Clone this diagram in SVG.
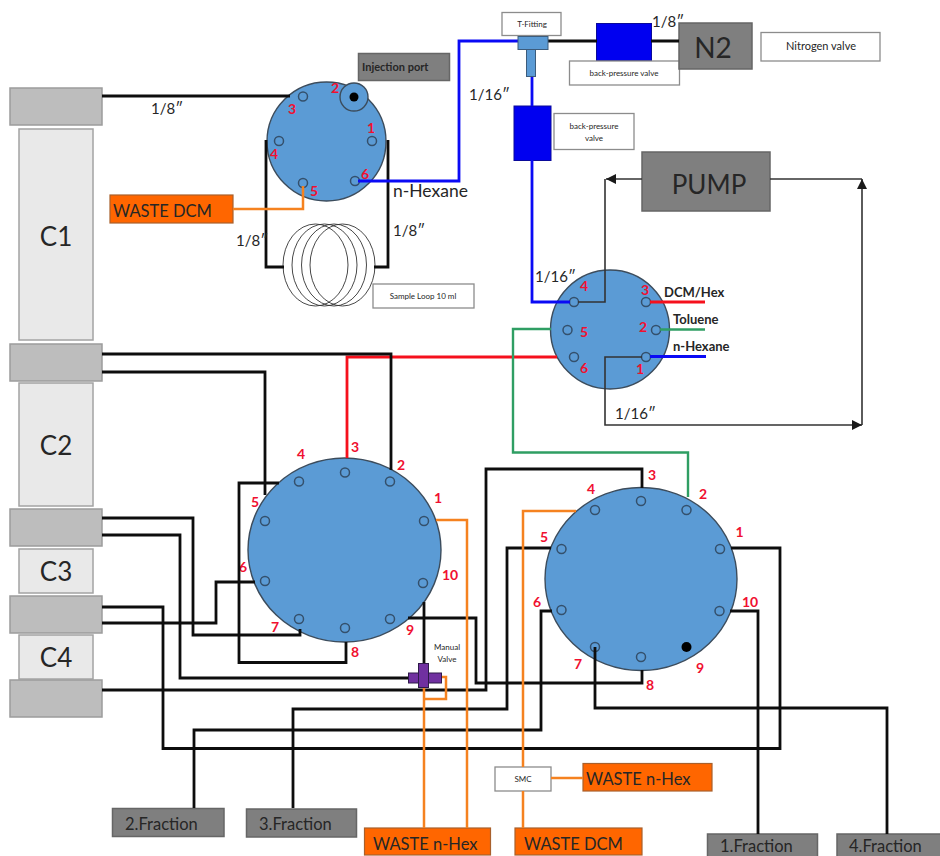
<svg xmlns="http://www.w3.org/2000/svg" width="940" height="856" viewBox="0 0 940 856">
<defs>
<style>
text{font-family:Lato,"Open Sans","Liberation Sans",sans-serif;fill:#262626}
.m{text-anchor:middle}
.g{fill:#bdbdbd;stroke:#9c9c9c;stroke-width:1.5}
.c{fill:#e9e9e9;stroke:#a3a3a3;stroke-width:1.5}
.d{fill:#7f7f7f;stroke:#666;stroke-width:1.5}
.o{fill:#ff6600;stroke:#a8602c;stroke-width:1.2}
.w{fill:#fff;stroke:#8c8c8c;stroke-width:1.3}
.b{fill:#0000f0;stroke:#0a0a9a;stroke-width:1}
.v{fill:#5b9bd5;stroke:#3c4c5c;stroke-width:1.4}
.p{fill:none;stroke:#34506c;stroke-width:1.5}
.coil{fill:none;stroke:#333;stroke-width:.9}
.r{fill:#f01030;font-size:14px;font-weight:700;text-anchor:middle}
.l{fill:none;stroke-width:2.800}
.k{stroke:#0d0d0d}
.bl{stroke:#0a0af5}
.re{stroke:#f5101c}
.gr{stroke:#2f9e63;stroke-width:2.400}
.or{stroke:#f58220;stroke-width:2.500}
.t{fill:none;stroke:#333;stroke-width:1.6}
.col{font-size:26px}
.sm{font-size:8px}
.dim{font-size:15px}
.bt{font-size:16.500px}
</style>
<marker id="arrow" markerUnits="userSpaceOnUse" markerWidth="11" markerHeight="10" refX="10" refY="5" orient="auto"><path d="M0 0L10 5L0 10Z" fill="#1a1a1a"/></marker>
</defs>
<rect width="940" height="856" fill="#fff"/>

<g id="column-C1"><rect class="g" x="10" y="88" width="92" height="37"/><rect class="c" x="19" y="129" width="74" height="211"/><text class="col m" x="56" y="246">C1</text></g>
<g id="column-C2"><rect class="g" x="10" y="344" width="92" height="37"/><rect class="c" x="19" y="383" width="74" height="123"/><text class="col m" x="56" y="455">C2</text></g>
<g id="column-C3"><rect class="g" x="10" y="509" width="92" height="37"/><rect class="c" x="19" y="549" width="74" height="44"/><text class="col m" x="56" y="581">C3</text></g>
<g id="column-C4"><rect class="g" x="10" y="596" width="92" height="37"/><rect class="c" x="19" y="635" width="74" height="44"/><text class="col m" x="56" y="667">C4</text></g>
<g id="column-base"><rect class="g" x="10" y="680" width="92" height="37"/></g>

<g id="injection-port-label"><rect class="d" x="358.500" y="53.500" width="91" height="27"/><text x="362" y="71" font-size="11" font-weight="700">Injection port</text></g>

<g id="injection-valve">
<circle class="v" cx="326.500" cy="141.500" r="59.500"/>
<circle class="v" cx="354" cy="97" r="14"/><circle cx="354" cy="97" r="4.500" fill="#000"/>
<circle class="p" cx="303" cy="96.500" r="4.500"/><circle class="p" cx="372" cy="141" r="4.500"/><circle class="p" cx="279" cy="141" r="4.500"/><circle class="p" cx="303" cy="183" r="4.500"/><circle class="p" cx="355" cy="181" r="4.500"/>
<text class="r" x="292" y="114">3</text><text class="r" x="335" y="93">2</text><text class="r" x="371" y="133">1</text><text class="r" x="274" y="159">4</text><text class="r" x="314" y="196">5</text><text class="r" x="365" y="179">6</text>
</g>

<g id="sample-loop">
<ellipse class="coil" cx="315.500" cy="265" rx="32.500" ry="41"/><ellipse class="coil" cx="324.500" cy="265" rx="32.500" ry="41"/><ellipse class="coil" cx="334" cy="265" rx="32.500" ry="41"/><ellipse class="coil" cx="342.500" cy="265" rx="32.500" ry="41"/>
<rect class="w" x="373" y="284" width="101" height="24"/><text class="sm m" x="423" y="299">Sample Loop 10 ml</text>
</g>

<g id="waste-dcm-1"><rect class="o" x="110" y="195" width="123" height="28"/><text x="113" y="217" font-size="16.500">WASTE DCM</text></g>
<g id="t-fitting-label"><rect class="w" x="502" y="12.500" width="59" height="23"/><text class="sm m" x="532" y="27">T-Fitting</text></g>
<g id="bp-valve-1"><rect class="b" x="596.500" y="23.500" width="55" height="37"/><rect class="w" x="569.500" y="61" width="110" height="24"/><text class="sm m" x="624" y="76">back-pressure valve</text></g>
<g id="n2"><rect class="d" x="679" y="23" width="73" height="46"/><text class="m" x="713" y="58" font-size="28">N2</text></g>
<g id="nitrogen-valve"><rect class="w" x="761" y="32.500" width="119" height="28.500"/><text class="m" x="821" y="50" font-size="11">Nitrogen valve</text></g>
<g id="bp-valve-2"><rect class="b" x="514" y="106" width="37" height="54.500"/><rect class="w" x="554" y="113.500" width="80" height="36"/><text class="sm m" x="594" y="129">back-pressure</text><text class="sm m" x="594" y="141">valve</text></g>
<g id="pump"><rect class="d" x="642" y="152" width="128" height="59"/><text class="m" x="709" y="194" font-size="26">PUMP</text></g>

<g id="selection-valve">
<circle class="v" cx="610" cy="329.500" r="59.500"/>
<circle class="p" cx="574" cy="302" r="4.500"/><circle class="p" cx="646" cy="302" r="4.500"/><circle class="p" cx="567.500" cy="330" r="4.500"/><circle class="p" cx="656" cy="330" r="4.500"/><circle class="p" cx="574" cy="357" r="4.500"/><circle class="p" cx="646" cy="357" r="4.500"/>
<text class="r" x="584" y="291">4</text><text class="r" x="645" y="295">3</text><text class="r" x="584" y="337">5</text><text class="r" x="643" y="332">2</text><text class="r" x="584" y="373">6</text><text class="r" x="640" y="374">1</text>
</g>

<g id="valve-left">
<ellipse class="v" cx="344.500" cy="550" rx="96.500" ry="92"/>
<circle class="p" cx="345" cy="472.500" r="4.500"/><circle class="p" cx="299" cy="481.500" r="4.500"/><circle class="p" cx="390" cy="481.500" r="4.500"/><circle class="p" cx="265" cy="521" r="4.500"/><circle class="p" cx="424" cy="521" r="4.500"/><circle class="p" cx="265" cy="581" r="4.500"/><circle class="p" cx="423" cy="583" r="4.500"/><circle class="p" cx="299" cy="619" r="4.500"/><circle class="p" cx="345" cy="628" r="4.500"/><circle class="p" cx="390" cy="619" r="4.500"/>
<text class="r" x="355" y="452">3</text><text class="r" x="301" y="459">4</text><text class="r" x="401" y="470">2</text><text class="r" x="255" y="507">5</text><text class="r" x="438" y="503">1</text><text class="r" x="243" y="572">6</text><text class="r" x="450" y="580">10</text><text class="r" x="275" y="632">7</text><text class="r" x="355" y="657">8</text><text class="r" x="410" y="635">9</text>
</g>

<g id="valve-right">
<ellipse class="v" cx="641" cy="579" rx="96" ry="91.500"/>
<circle class="p" cx="641" cy="501" r="4.500"/><circle class="p" cx="595" cy="510" r="4.500"/><circle class="p" cx="686.500" cy="510" r="4.500"/><circle class="p" cx="561.500" cy="549" r="4.500"/><circle class="p" cx="720" cy="549" r="4.500"/><circle class="p" cx="561.500" cy="610" r="4.500"/><circle class="p" cx="719.500" cy="611" r="4.500"/><circle class="p" cx="595" cy="647" r="4.500"/><circle class="p" cx="641" cy="657" r="4.500"/><circle cx="686.500" cy="647" r="5" fill="#000"/>
<text class="r" x="652" y="480">3</text><text class="r" x="591" y="494">4</text><text class="r" x="703" y="499">2</text><text class="r" x="544" y="542">5</text><text class="r" x="739.500" y="537">1</text><text class="r" x="537" y="607">6</text><text class="r" x="750" y="607">10</text><text class="r" x="578" y="669">7</text><text class="r" x="650" y="690">8</text><text class="r" x="700" y="673">9</text>
</g>

<g id="smc"><rect class="w" x="495" y="767" width="56" height="24"/><text class="sm m" x="523" y="782">SMC</text></g>
<g id="waste-hex-1"><rect class="o" x="583" y="763.500" width="129" height="27.500"/><text x="586" y="785" font-size="16.500">WASTE n-Hex</text></g>
<g id="waste-hex-2"><rect class="o" x="364.500" y="828" width="126" height="27"/><text x="373" y="850" font-size="16.500">WASTE n-Hex</text></g>
<g id="waste-dcm-2"><rect class="o" x="515" y="828" width="127" height="27"/><text x="524" y="850" font-size="16.500">WASTE DCM</text></g>
<g id="fraction-2"><rect class="d" x="112.500" y="808.500" width="111.500" height="28"/><text class="bt" x="125" y="830">2.Fraction</text></g>
<g id="fraction-3"><rect class="d" x="246.500" y="809" width="110" height="28"/><text class="bt" x="259" y="830">3.Fraction</text></g>
<g id="fraction-1"><rect class="d" x="707.500" y="834" width="110" height="30"/><text class="bt" x="720" y="851.500">1.Fraction</text></g>
<g id="fraction-4"><rect class="d" x="837" y="834" width="110" height="30"/><text class="bt" x="849" y="851.500">4.Fraction</text></g>

<g id="connectors">
<path class="l k" d="M102 96H290"/>
<path class="l k" d="M266 140V267H284"/>
<path class="l k" d="M388 140V267H374"/>
<path class="l or" d="M233 209H303V186"/>
<path class="l bl" d="M358 181H459V41H518"/>
<path class="l k" d="M548 41H597M651 41H679"/>
<path class="l bl" d="M532 76V106M532 160V302H570"/>
<path class="t" d="M578 302H605V179"/>
<path class="t" d="M642 179H606" marker-end="url(#arrow)"/>
<path class="t" d="M770 179H862"/>
<path class="t" d="M862 425V179" marker-end="url(#arrow)"/>
<path class="t" d="M642 357H605V425H862" marker-end="url(#arrow)"/>
<path class="l re" d="M650 302H705"/>
<path class="l gr" d="M660 329.500H705"/>
<path class="l bl" d="M650 356.500H706"/>
<path class="l re" d="M557 357H347V458"/>
<path class="l gr" d="M551 329H513V452.500H688V497"/>
<path class="l k" d="M102 354H391V470"/>
<path class="l k" d="M102 372H265V495"/>
<path class="l k" d="M279 483H239V662.500H346V642"/>
<path class="l k" d="M102 518H193V635H300V629"/>
<path class="l k" d="M102 535H180V678H410"/>
<path class="l k" d="M102 623H216V582H255"/>
<path class="l k" d="M102 607H163V748.500H780V548H731"/>
<path class="l k" d="M102 690H486V469H642V488"/>
<path class="l k" d="M293 808V709H507V548H551"/>
<path class="l k" d="M194 808V730H541V611H552"/>
<path class="l k" d="M730 611H758V834"/>
<path class="l k" d="M595 647V708H887V834"/>
<path class="l k" d="M408 618H476V683H642V670"/>
<path class="l k" d="M424 602V665"/>
<path class="l or" d="M424 685V828M441 677H446V699H424"/>
<path class="l or" d="M436 520H467V828"/>
<path class="l or" d="M576 511H523V767M523 791V828M551 778H583"/>
</g>

<g id="t-fitting"><rect x="518" y="36.500" width="30" height="13" fill="#5b9bd5" stroke="#3c5c7c"/><rect x="526.500" y="49.500" width="9" height="27" fill="#5b9bd5" stroke="#3c5c7c"/></g>
<g id="manual-valve"><rect x="408.500" y="673" width="33" height="10" fill="#7030a0" stroke="#2e1a4a"/><rect x="418.500" y="663.500" width="10" height="24" fill="#7030a0" stroke="#2e1a4a"/><text class="sm m" x="447" y="650">Manual</text><text class="sm m" x="447" y="662">Valve</text></g>

<g id="pipe-labels">
<text class="dim" x="151" y="114">1/8″</text>
<text x="393" y="197" font-size="17.500">n-Hexane</text>
<text class="dim" x="236" y="246">1/8″</text>
<text class="dim" x="393" y="236">1/8″</text>
<text class="dim" x="469" y="100">1/16″</text>
<text class="dim" x="652" y="27">1/8″</text>
<text class="dim" x="535" y="282">1/16″</text>
<text class="dim" x="615" y="419">1/16″</text>
<text x="664" y="297" font-size="13" font-weight="700">DCM/Hex</text>
<text x="673" y="324" font-size="13" font-weight="700">Toluene</text>
<text x="673" y="351" font-size="13" font-weight="700">n-Hexane</text>
</g>
</svg>
